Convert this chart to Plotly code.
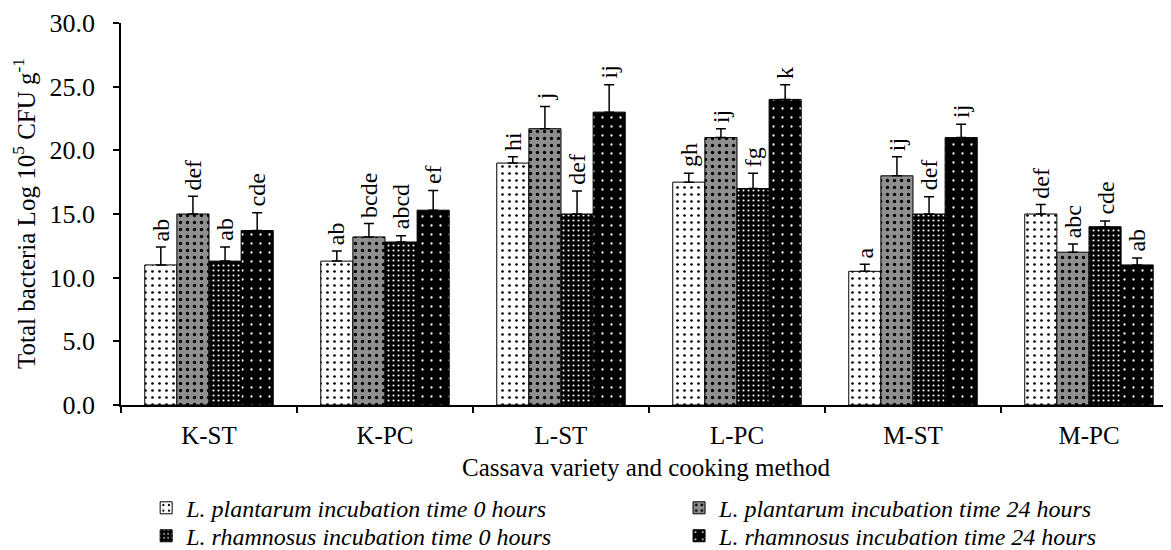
import plotly.graph_objects as go

categories = ["K-ST", "K-PC", "L-ST", "L-PC", "M-ST", "M-PC"]
series_names = [
    "L. plantarum incubation time 0 hours",
    "L. plantarum incubation time 24 hours",
    "L. rhamnosus incubation time 0 hours",
    "L. rhamnosus incubation time 24 hours",
]
lp_0h = [11.0, 11.3, 19.0, 17.5, 10.5, 15.0]
lp_24h = [15.0, 13.2, 21.7, 21.0, 18.0, 12.0]
lr_0h = [11.3, 12.8, 15.0, 17.0, 15.0, 14.0]
lr_24h = [13.7, 15.3, 23.0, 24.0, 21.0, 11.0]

lp_0h_err = [1.4, 0.8, 0.5, 0.7, 0.55, 0.75]
lp_24h_err = [1.4, 1.05, 1.75, 0.7, 1.5, 0.65]
lr_0h_err = [1.1, 0.5, 1.8, 1.2, 1.35, 0.45]
lr_24h_err = [1.4, 1.55, 2.15, 1.15, 1.05, 0.55]

lp_0h_lbl = ["ab", "ab", "hi", "gh", "a", "def"]
lp_24h_lbl = ["def", "bcde", "j", "ij", "ij", "abc"]
lr_0h_lbl = ["ab", "abcd", "def", "fg", "def", "cde"]
lr_24h_lbl = ["cde", "ef", "ij", "k", "ij", "ab"]

values = [lp_0h, lp_24h, lr_0h, lr_24h]
errors = [lp_0h_err, lp_24h_err, lr_0h_err, lr_24h_err]
labels = [lp_0h_lbl, lp_24h_lbl, lr_0h_lbl, lr_24h_lbl]

patterns = [
    dict(shape=".", bgcolor="white", fgcolor="black", size=7, solidity=0.12),
    dict(shape=".", bgcolor="#8f8f8f", fgcolor="black", size=7, solidity=0.18),
    dict(shape=".", bgcolor="black", fgcolor="white", size=5, solidity=0.14),
    dict(shape=".", bgcolor="black", fgcolor="white", size=9, solidity=0.05),
]
legend_ids = ["legend", "legend2", "legend3", "legend4"]
legend_pos = [(0.1188, 0.0771), (0.577, 0.0771), (0.1188, 0.0255), (0.577, 0.0255)]

FONT = "Liberation Serif, Times New Roman, serif"
BARGAP = 0.27
# page body has an 8px default margin, so the figure is sized to fit 1171x550
M_L, M_R, M_T, M_B = 113, 0, 15, 145
W, H = 1163, 542

fig = go.Figure()
for i in range(4):
    fig.add_trace(go.Bar(
        x=categories, y=values[i], name=series_names[i],
        marker=dict(color=patterns[i]["bgcolor"], line=dict(color="black", width=1),
                    pattern=dict(fillmode="replace", **patterns[i])),
        error_y=dict(type="data", array=errors[i], arrayminus=[0] * 6, symmetric=False,
                     color="black", thickness=1.5, width=5),
        legend=legend_ids[i],
    ))

n = len(series_names)
bw = (1 - BARGAP) / n
for i in range(n):
    off = -(1 - BARGAP) / 2 + bw * (i + 0.5)
    for j in range(len(categories)):
        fig.add_annotation(
            x=j + off, y=values[i][j] + errors[i][j], text=labels[i][j],
            textangle=-90, showarrow=False, xanchor="center", yanchor="bottom",
            yshift=4, font=dict(family=FONT, size=24, color="black"),
        )

# y-axis title as a rotated annotation
plot_w = W - M_L - M_R
fig.add_annotation(
    xref="paper", yref="paper", x=-(M_L - 16) / plot_w, y=0.5,
    text="Total bacteria Log 10<sup>5</sup> CFU g<sup>-1</sup>",
    textangle=-90, showarrow=False, xanchor="center", yanchor="middle",
    font=dict(family=FONT, size=25, color="black"),
)

legend_layout = {}
for lid, (lx, ly) in zip(legend_ids, legend_pos):
    legend_layout[lid] = dict(
        xref="container", yref="container", x=lx, y=ly,
        xanchor="left", yanchor="middle", orientation="v",
        font=dict(family=FONT, size=24, style="italic"),
        bgcolor="rgba(0,0,0,0)",
    )

fig.update_layout(
    width=W, height=H,
    margin=dict(l=M_L, r=M_R, t=M_T, b=M_B, autoexpand=False),
    barmode="group", bargap=BARGAP, bargroupgap=0,
    plot_bgcolor="white", paper_bgcolor="white",
    font=dict(family=FONT, size=25, color="black"),
    showlegend=True,
    **legend_layout,
)
fig.update_xaxes(
    type="category", range=[-0.5, 5.466], showline=True, linecolor="black", linewidth=1.5,
    ticks="outside", tickson="boundaries", ticklen=6, tickwidth=1.5, tickcolor="black",
    showgrid=False, tickfont=dict(size=25), ticklabelstandoff=7,
    title=dict(text="Cassava variety and cooking method", font=dict(size=25), standoff=11),
)
fig.update_yaxes(
    range=[0, 30], dtick=5, tickformat=".1f", showline=True, linecolor="black", linewidth=1.5,
    ticks="outside", ticklen=6, tickwidth=1.5, tickcolor="black", showgrid=False,
    zeroline=False, tickfont=dict(size=26), ticklabelstandoff=13,
)

fig.write_html("out.html")
